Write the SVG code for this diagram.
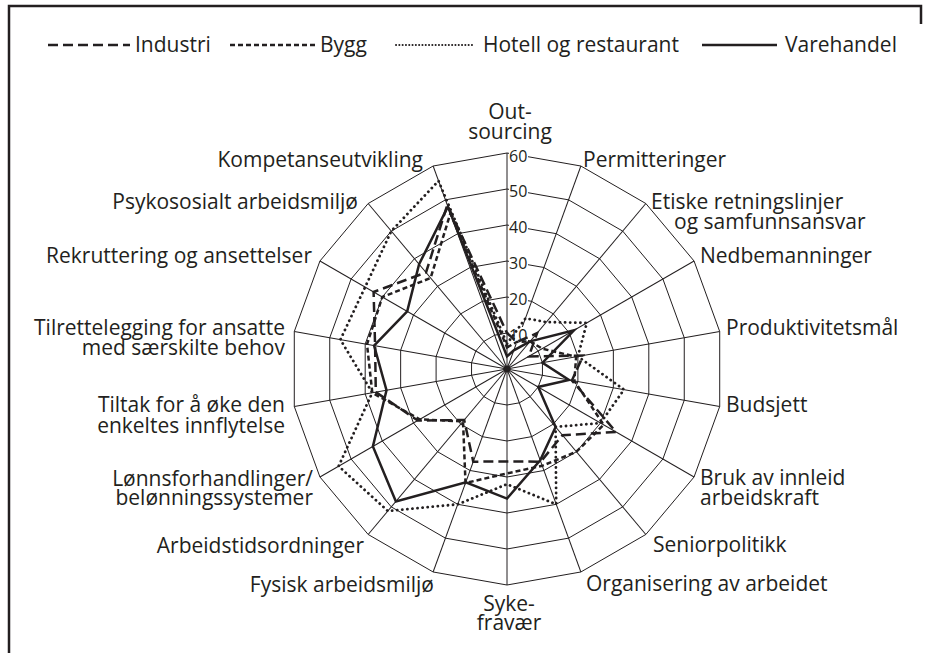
<svg xmlns="http://www.w3.org/2000/svg" xmlns:xlink="http://www.w3.org/1999/xlink" width="925" height="653" viewBox="0 0 925 653">
<style>
.frame{fill:none;stroke:#231f20;stroke-width:2.5}
.grid{fill:none;stroke:#231f20;stroke-width:1;vector-effect:non-scaling-stroke}
.ax{stroke:#231f20;stroke-width:1}
.lbl{font-family:"Open Sans","Noto Sans",sans-serif;font-size:21px;fill:#231f20}
.tick{font-family:"Open Sans","Noto Sans",sans-serif;font-size:16px;fill:#231f20}
.s{fill:none;stroke:#231f20;stroke-width:2.5;stroke-linejoin:miter}
.ind{stroke-dasharray:10 5}
.byg{stroke-dasharray:5 3}
.hot{stroke-dasharray:0.1 5;stroke-linecap:round;stroke-width:2.8}
</style>
<defs>
<polygon id="ring" class="grid" points="0,-1 0.3420,-0.9397 0.6428,-0.7660 0.8660,-0.5 0.9848,-0.1736 0.9848,0.1736 0.8660,0.5 0.6428,0.7660 0.3420,0.9397 0,1 -0.3420,0.9397 -0.6428,0.7660 -0.8660,0.5 -0.9848,0.1736 -0.9848,-0.1736 -0.8660,-0.5 -0.6428,-0.7660 -0.3420,-0.9397"/>
</defs>
<rect width="925" height="653" fill="#fff"/>
<path class="frame" d="M9,653 V6 H921 V24"/>

<g id="legend">
<line class="s ind" x1="48" y1="45" x2="130" y2="45"/>
<text class="lbl" x="135" y="52">Industri</text>
<line class="s byg" x1="230" y1="45" x2="315" y2="45"/>
<text class="lbl" x="320" y="52">Bygg</text>
<line class="s hot" x1="396" y1="45" x2="475" y2="45" style="stroke-dasharray:0.1 3.2;stroke-width:2"/>
<text class="lbl" x="483" y="52">Hotell og restaurant</text>
<line class="s" x1="702" y1="45" x2="777" y2="45"/>
<text class="lbl" x="785" y="52">Varehandel</text>
</g>

<g id="grid" transform="translate(507,369)">
<use xlink:href="#ring" transform="scale(36)"/>
<use xlink:href="#ring" transform="scale(72)"/>
<use xlink:href="#ring" transform="scale(108)"/>
<use xlink:href="#ring" transform="scale(144)"/>
<use xlink:href="#ring" transform="scale(180)"/>
<use xlink:href="#ring" transform="scale(216)"/>
<g class="ax">
<line x1="0" y1="0" x2="0" y2="-216"/>
<line x1="0" y1="0" x2="0" y2="-216" transform="rotate(20)"/>
<line x1="0" y1="0" x2="0" y2="-216" transform="rotate(40)"/>
<line x1="0" y1="0" x2="0" y2="-216" transform="rotate(60)"/>
<line x1="0" y1="0" x2="0" y2="-216" transform="rotate(80)"/>
<line x1="0" y1="0" x2="0" y2="-216" transform="rotate(100)"/>
<line x1="0" y1="0" x2="0" y2="-216" transform="rotate(120)"/>
<line x1="0" y1="0" x2="0" y2="-216" transform="rotate(140)"/>
<line x1="0" y1="0" x2="0" y2="-216" transform="rotate(160)"/>
<line x1="0" y1="0" x2="0" y2="-216" transform="rotate(180)"/>
<line x1="0" y1="0" x2="0" y2="-216" transform="rotate(200)"/>
<line x1="0" y1="0" x2="0" y2="-216" transform="rotate(220)"/>
<line x1="0" y1="0" x2="0" y2="-216" transform="rotate(240)"/>
<line x1="0" y1="0" x2="0" y2="-216" transform="rotate(260)"/>
<line x1="0" y1="0" x2="0" y2="-216" transform="rotate(280)"/>
<line x1="0" y1="0" x2="0" y2="-216" transform="rotate(300)"/>
<line x1="0" y1="0" x2="0" y2="-216" transform="rotate(320)"/>
<line x1="0" y1="0" x2="0" y2="-216" transform="rotate(340)"/>
</g>
<circle r="3.5" fill="#231f20"/>
</g>

<g id="ticks">
<rect x="509" y="147" width="19" height="18" fill="#fff"/>
<text class="tick" x="509" y="162">60</text>
<rect x="509" y="183" width="19" height="17" fill="#fff"/>
<text class="tick" x="509" y="197">50</text>
<rect x="509" y="219" width="19" height="17" fill="#fff"/>
<text class="tick" x="509" y="233">40</text>
<rect x="509" y="255" width="19" height="17" fill="#fff"/>
<text class="tick" x="509" y="269">30</text>
<rect x="509" y="291" width="19" height="17" fill="#fff"/>
<text class="tick" x="509" y="305">20</text>
<rect x="509" y="327" width="19" height="17" fill="#fff"/>
<text class="tick" x="509" y="341">10</text>
</g>

<g id="series" transform="translate(507,369)">
<polygon id="industri" class="s ind" points="0,-36 9.85,-27.06 30.08,-35.85 21.82,-12.6 76.22,-13.44 64.9,11.44 109.1,63 55.54,66.18 33.72,92.66 0,92.5 -33.72,92.66 -42.81,51.02 -89.2,51.5 -131.2,23.12 -131.9,-23.25 -133.4,-77.04 -81,-96.5 -59.7,-164.1"/>
<polygon id="bygg" class="s byg" points="0,-21.6 9.85,-27.06 23.14,-27.58 35.25,-20.35 69.13,-12.19 67.36,11.87 96.65,55.8 69.42,82.73 35.23,96.79 0,104.4 -41.49,113.99 -43.97,52.39 -87.29,50.4 -134.7,23.75 -140,-24.69 -124.7,-72 -76.36,-91 -56.64,-155.6"/>
<polygon id="hotell" class="s hot" points="0,-25.2 18.5,-50.7 39.3,-46.9 79.8,-46.1 70.9,-12.5 117,20.6 93.5,54 48.6,57.9 49.2,135.3 0,115.2 -49.2,135.3 -119.2,142 -168.4,97.2 -134.7,23.7 -166.6,-29.4 -141.9,-81.9 -115.7,-137.9 -68.5,-188.1"/>
<polygon id="varehandel" class="s" points="0,-12.6 6.8,-18.6 23.1,-27.6 67,-38.7 35.5,-6.3 62,10.9 31.2,18 48.6,57.9 33.2,91.3 0,129.6 -41.2,113.3 -111.1,132.4 -134.1,77.4 -120.5,21.2 -132.9,-23.4 -99.8,-57.6 -87.9,-104.8 -59.1,-162.4"/>
</g>

<g id="labels" class="lbl">
<g id="n-outsourcing"><text text-anchor="middle" x="510" y="119">Out-<tspan x="510" y="139">sourcing</tspan></text></g>
<g id="n-permitteringer"><text x="583" y="167">Permitteringer</text></g>
<g id="n-etiske"><text x="651" y="209">Etiske retningslinjer<tspan x="674" y="229">og samfunnsansvar</tspan></text></g>
<g id="n-nedbemanninger"><text x="700" y="263">Nedbemanninger</text></g>
<g id="n-produktivitet"><text x="726" y="335">Produktivitetsmål</text></g>
<g id="n-budsjett"><text x="726" y="412">Budsjett</text></g>
<g id="n-innleid"><text x="700" y="485">Bruk av innleid<tspan x="700" y="505">arbeidskraft</tspan></text></g>
<g id="n-senior"><text x="653" y="552">Seniorpolitikk</text></g>
<g id="n-organisering"><text x="586" y="591">Organisering av arbeidet</text></g>
<g id="n-sykefravaer"><text text-anchor="middle" x="509" y="611">Syke-<tspan x="509" y="630">fravær</tspan></text></g>
<g id="n-fysisk"><text text-anchor="end" x="434" y="592">Fysisk arbeidsmiljø</text></g>
<g id="n-arbeidstid"><text text-anchor="end" x="364" y="553">Arbeidstidsordninger</text></g>
<g id="n-lonn"><text text-anchor="end" x="313" y="486">Lønnsforhandlinger/<tspan x="313" y="505">belønningssystemer</tspan></text></g>
<g id="n-tiltak"><text text-anchor="end" x="285" y="412">Tiltak for å øke den<tspan x="285" y="433">enkeltes innflytelse</tspan></text></g>
<g id="n-tilrettelegging"><text text-anchor="end" x="285" y="335">Tilrettelegging for ansatte<tspan x="285" y="355">med særskilte behov</tspan></text></g>
<g id="n-rekruttering"><text text-anchor="end" x="312" y="263">Rekruttering og ansettelser</text></g>
<g id="n-psykososialt"><text text-anchor="end" x="358" y="209">Psykososialt arbeidsmiljø</text></g>
<g id="n-kompetanse"><text text-anchor="end" x="423" y="167">Kompetanseutvikling</text></g>
</g>
</svg>
